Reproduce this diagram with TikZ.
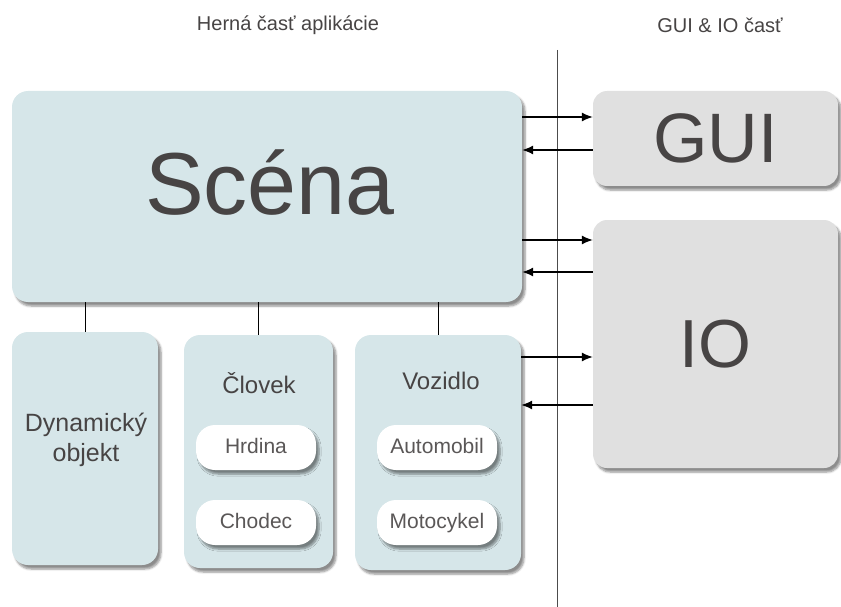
\documentclass[tikz,border=0pt]{standalone}
\usepackage{fontspec}
\setmainfont{Liberation Sans}
\usetikzlibrary{arrows.meta,shadows.blur,calc}
\definecolor{scenafill}{HTML}{D6E6E9}
\definecolor{iofill}{HTML}{E0E0E0}
\definecolor{txtgray}{HTML}{474444}
\tikzset{
    blok/.style={rounded corners=16pt, inner sep=0pt, text=txtgray,
        blur shadow={shadow xshift=3pt, shadow yshift=-4pt, shadow blur steps=6, shadow opacity=45}},
    herny/.style={blok, fill=scenafill},
    iobox/.style={blok, fill=iofill, rounded corners=14pt},
    pill/.style={blok, fill=white, rounded corners=19pt, minimum width=120pt, minimum height=45pt,
        text height=15pt, text depth=4pt, font=\fontsize{21}{21}\selectfont, text=txtgray!90},
    tok/.style={line width=1.2pt, -{Latex[length=11pt,width=9pt]}},
    spoj/.style={line width=1pt}
}
\begin{document}
\begin{tikzpicture}[x=1pt,y=-1pt]
    \useasboundingbox (0,0) rectangle (841,607);
    % hlavicky
    \node[text=txtgray, font=\fontsize{20}{20}\selectfont] (hra) at (288,25) {Herná časť aplikácie};
    \node[text=txtgray, font=\fontsize{20}{20}\selectfont] (guiio) at (720,25) {GUI \& IO časť};
    \draw[line width=0.8pt, black!70] (557,50) -- (557,607);

    % herna cast
    \node[herny, minimum width=510pt, minimum height=211pt] (scena) at (267,196.5) {};
    \node[text=txtgray, font=\fontsize{88}{88}\selectfont] (scenatxt) at (270,183) {Scéna};
    \node[herny, minimum width=146pt, minimum height=233pt] (dyn) at (85,448.5) {};
    \node[herny, minimum width=149pt, minimum height=233pt] (clovek) at (258.5,451.5) {};
    \node[herny, minimum width=166pt, minimum height=235pt] (vozidlo) at (438,452.5) {};
    \node[text=txtgray, align=center, font=\fontsize{25}{30}\selectfont] (dyntxt) at (86,440) {Dynamický\\objekt};
    \node[text=txtgray, font=\fontsize{24}{24}\selectfont] (clovektxt) at (259,383) {Človek};
    \node[text=txtgray, font=\fontsize{24}{24}\selectfont] (vozidlotxt) at (441,381) {Vozidlo};
    \node[pill] (hrdina) at (256,447.5) {Hrdina};
    \node[pill] (chodec) at (256,522.5) {Chodec};
    \node[pill] (automobil) at (437,447.5) {Automobil};
    \node[pill] (motocykel) at (437,522.5) {Motocykel};
    \foreach \b in {dyn,clovek,vozidlo}
        \draw[spoj] (\b.north) -- (\b.north |- scena.south);

    % GUI a IO cast
    \node[iobox, minimum width=245pt, minimum height=95pt, font=\fontsize{70}{70}\selectfont] (gui) at (715.5,138.5) {GUI};
    \node[iobox, minimum width=245pt, minimum height=248pt, font=\fontsize{68}{68}\selectfont] (io) at (715.5,344) {IO};

    % toky
    \draw[tok] (scena.east |- 0,117) -- (gui.west |- 0,117);
    \draw[tok] (gui.west |- 0,150) -- (scena.east |- 0,150);
    \draw[tok] (scena.east |- 0,240) -- (io.west |- 0,240);
    \draw[tok] (io.west |- 0,272) -- (scena.east |- 0,272);
    \draw[tok] (vozidlo.east |- 0,357) -- (io.west |- 0,357);
    \draw[tok] (io.west |- 0,405) -- (vozidlo.east |- 0,405);
\end{tikzpicture}
\end{document}
